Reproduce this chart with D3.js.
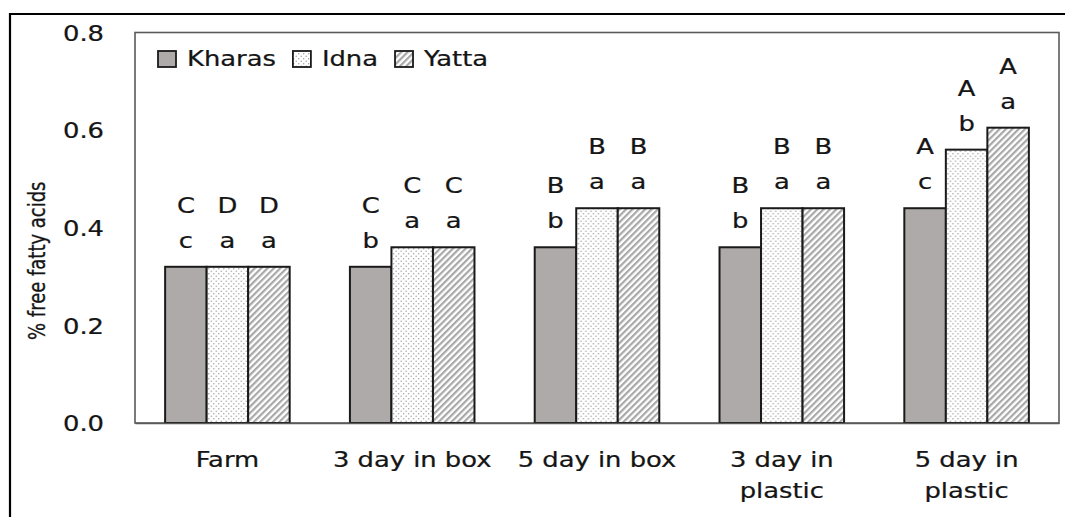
<!DOCTYPE html>
<html>
<head>
<meta charset="utf-8">
<script src="https://cdn.jsdelivr.net/npm/d3@7"></script>
<style>
  html, body { margin: 0; padding: 0; background: #fff; }
  svg { display: block; }
  text { font-family: "DejaVu Sans", Verdana, sans-serif; fill: #151515; stroke: #151515; stroke-width: 0.25px; }
</style>
</head>
<body>
<svg id="chart" width="1065" height="517"></svg>
<script>
// Storage treatments along the x axis
const categories = ["Farm", "3 day in box", "5 day in box", "3 day in\nplastic", "5 day in\nplastic"];
// Sources (one bar each per treatment)
const series = ["Kharas", "Idna", "Yatta"];
// % free fatty acids, per source, in category order
const kharas = [0.32, 0.32, 0.36, 0.36, 0.44];
const idna   = [0.32, 0.36, 0.44, 0.44, 0.56];
const yatta  = [0.32, 0.36, 0.44, 0.44, 0.605];
// Significance letters: upper-case across treatments, lower-case across sources
const upperLetters = [
  ["C", "D", "D"],
  ["C", "C", "C"],
  ["B", "B", "B"],
  ["B", "B", "B"],
  ["A", "A", "A"]
];
const lowerLetters = [
  ["c", "a", "a"],
  ["b", "a", "a"],
  ["b", "a", "a"],
  ["b", "a", "a"],
  ["c", "b", "a"]
];
const yTicks = [0, 0.2, 0.4, 0.6, 0.8];
const yTitle = "% free fatty acids";

const values = [kharas, idna, yatta];
const SX = 1.2;           // horizontal widening of the lettering
const FS = 21.5;          // font size

const svg = d3.select("#chart");
const plot = { left: 135, top: 32.5, right: 1059, bottom: 423 };

// Outer frame (top and left edges)
svg.append("path")
  .attr("d", `M10,518 L10,14 L1066,14`)
  .attr("fill", "none").attr("stroke", "#000").attr("stroke-width", 2.2);

const defs = svg.append("defs");
// dotted fill
const dots = defs.append("pattern").attr("id", "dots")
  .attr("width", 5).attr("height", 5).attr("patternUnits", "userSpaceOnUse");
dots.append("rect").attr("width", 5).attr("height", 5).attr("fill", "#fff");
dots.append("circle").attr("cx", 1.2).attr("cy", 1.2).attr("r", 0.7).attr("fill", "#9a9a9a");
dots.append("circle").attr("cx", 3.7).attr("cy", 3.7).attr("r", 0.7).attr("fill", "#9a9a9a");
// diagonal stripes
const stripes = defs.append("pattern").attr("id", "stripes")
  .attr("width", 4.5).attr("height", 4.5).attr("patternUnits", "userSpaceOnUse")
  .attr("patternTransform", "rotate(45)");
stripes.append("rect").attr("width", 4.5).attr("height", 4.5).attr("fill", "#fff");
stripes.append("rect").attr("width", 2.2).attr("height", 4.5).attr("fill", "#a8a8a8");

const fills = ["#aeaaaa", "url(#dots)", "url(#stripes)"];

const x0 = d3.scaleBand().domain(categories)
  .range([plot.left, plot.right]).paddingInner(0.326).paddingOuter(0.163);
const x1 = d3.scaleBand().domain(series).range([0, x0.bandwidth()]);
const y = d3.scaleLinear().domain([0, 0.8]).range([plot.bottom, plot.top]);

// plot area border
svg.append("rect")
  .attr("x", plot.left).attr("y", plot.top)
  .attr("width", plot.right - plot.left).attr("height", plot.bottom - plot.top)
  .attr("fill", "none").attr("stroke", "#5a5a5a").attr("stroke-width", 1.6);

// bars
const groups = svg.append("g").selectAll("g")
  .data(categories).join("g")
  .attr("transform", d => `translate(${x0(d)},0)`);

groups.selectAll("rect")
  .data((c, ci) => series.map((s, si) => ({ s, si, v: values[si][ci] })))
  .join("rect")
  .attr("x", d => x1(d.s))
  .attr("y", d => y(d.v))
  .attr("width", x1.bandwidth())
  .attr("height", d => y(0) - y(d.v))
  .attr("fill", d => fills[d.si])
  .attr("stroke", "#1a1a1a").attr("stroke-width", 2);

// letters above bars
groups.each(function (c, ci) {
  const g = d3.select(this);
  series.forEach((s, si) => {
    const cx = x1(s) + x1.bandwidth() / 2;
    const top = y(values[si][ci]);
    g.append("text").attr("transform", `translate(${cx},${top - 19}) scale(${SX},1)`)
      .attr("text-anchor", "middle").attr("font-size", FS).text(lowerLetters[ci][si]);
    g.append("text").attr("transform", `translate(${cx},${top - 54}) scale(${SX},1)`)
      .attr("text-anchor", "middle").attr("font-size", FS).text(upperLetters[ci][si]);
  });
});

// y axis
const yAxis = svg.append("g").attr("transform", `translate(${plot.left},0)`)
  .call(d3.axisLeft(y).tickValues(yTicks).tickFormat(d3.format(".1f")).tickSize(0));
yAxis.select(".domain").remove();
yAxis.selectAll("text")
  .attr("x", null).attr("dy", "0.36em")
  .attr("font-size", FS).attr("font-family", null).attr("fill", null)
  .attr("transform", `translate(-31,0) scale(${SX},1)`);

// x axis
const xAxis = svg.append("g").attr("transform", `translate(0,${plot.bottom})`)
  .call(d3.axisBottom(x0).tickSize(0).tickFormat(""));
xAxis.select(".domain").attr("stroke", "#5a5a5a").attr("stroke-width", 1.6);
xAxis.selectAll(".tick").each(function (c) {
  const lines = c.split("\n");
  const t = d3.select(this).append("text")
    .attr("text-anchor", "middle").attr("font-size", FS)
    .attr("transform", `translate(0,44) scale(${SX},1)`);
  lines.forEach((ln, i) => t.append("tspan").attr("x", 0).attr("dy", i === 0 ? 0 : 31).text(ln));
});

// y title
svg.append("text")
  .attr("transform", `translate(45,${(plot.top + plot.bottom) / 2 + 33}) rotate(-90) scale(1,1.28)`)
  .attr("text-anchor", "middle").attr("font-size", 18).text(yTitle);

// legend
const legend = svg.append("g");
let lx = 158;
series.forEach((s, i) => {
  legend.append("rect").attr("x", lx).attr("y", 51).attr("width", 18).attr("height", 16)
    .attr("fill", fills[i]).attr("stroke", "#1a1a1a").attr("stroke-width", 1.8);
  const t = legend.append("text")
    .attr("transform", `translate(${lx + 29},66) scale(${SX},1)`)
    .attr("font-size", FS).text(s);
  lx = lx + 29 + t.node().getComputedTextLength() * SX + 17;
});
</script>
</body>
</html>
